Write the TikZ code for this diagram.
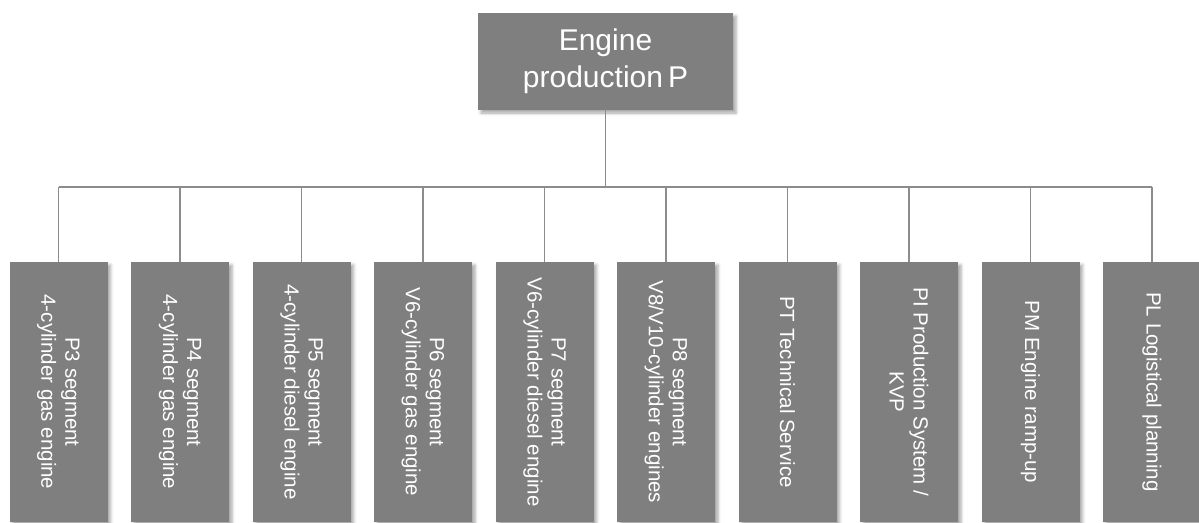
\documentclass[tikz,border=0pt]{standalone}
\usepackage{fontspec}
\setmainfont{Liberation Sans}
\usetikzlibrary{shadows.blur}
\definecolor{boxgray}{HTML}{7F7F7F}
\definecolor{linegray}{HTML}{8C8C8C}
\begin{document}
\begin{tikzpicture}[x=1pt,y=1pt,
  orgbox/.style={fill=boxgray, text=white, inner sep=0pt, align=center,
    blur shadow={shadow xshift=3pt, shadow yshift=-3pt, shadow blur radius=3pt, shadow opacity=35}},
  headbox/.style={orgbox, minimum width=255pt, minimum height=97pt,
    font=\fontsize{30}{37}\selectfont},
  unitbox/.style={orgbox, rotate=-90, minimum width=260pt, minimum height=98pt,
    font=\fontsize{20.5}{24}\selectfont},
  link/.style={draw=linegray, line width=1.3pt}]
\useasboundingbox (0,0) rectangle (1199,-522);

% head of the department
\node[headbox] (head) at (605.5,-61.5) {Engine\\production\,P};

% segment and service units
\foreach \i/\txt in {
  1/{P3 segment\\4-cylinder gas engine},
  2/{P4 segment\\4-cylinder gas engine},
  3/{P5 segment\\4-cylinder diesel engine},
  4/{P6 segment\\V6-cylinder gas engine},
  5/{P7 segment\\V6-cylinder diesel engine},
  6/{P8 segment\\V8/V10-cylinder engines},
  7/{PT Technical Service},
  8/{PI Production System /\\KVP},
  9/{PM Engine ramp-up},
  10/{PL Logistical planning}}
{
  \node[unitbox] (u\i) at ({58.5+121.5*(\i-1)},-392) {\txt};
}

% connectors
\coordinate (bus) at (605.5,-187);
\draw[link] (head.south) -- (bus);
\draw[link] (bus -| u1.west) -- (bus -| u10.west);
\foreach \i in {1,...,10}{
  \draw[link] (bus -| u\i.west) -- (u\i.west);
}
\end{tikzpicture}
\end{document}
